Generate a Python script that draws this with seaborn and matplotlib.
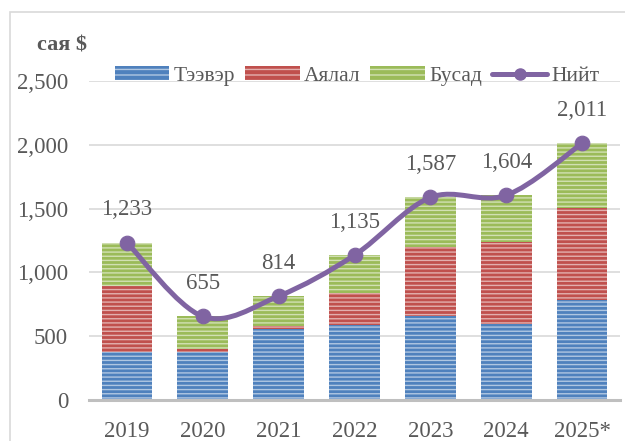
import numpy as np
import pandas as pd
import matplotlib
matplotlib.use("Agg")
import matplotlib.pyplot as plt
import seaborn as sns
from matplotlib.patches import Patch, Rectangle, PathPatch
from matplotlib.lines import Line2D
from matplotlib.path import Path

years = ["2019", "2020", "2021", "2022", "2023", "2024", "2025*"]
transport = [375, 375, 560, 585, 660, 597, 780]
travel = [515, 25, 20, 250, 537, 640, 727]
other = [343, 255, 234, 300, 390, 367, 504]
total = [1233, 655, 814, 1135, 1587, 1604, 2011]
series_names = ["Тээвэр", "Аялал", "Бусад", "Нийт"]
unit_label = "сая $"

c_blue = "#4F81BD"
c_red = "#C0504D"
c_green = "#9BBB59"
c_purple = "#8064A2"
txt = "#595959"

sns.set_theme(style="white")
plt.rcParams["font.family"] = ["Liberation Serif", "DejaVu Serif"]
plt.rcParams["hatch.linewidth"] = 1.0

fig = plt.figure(figsize=(6.25, 4.41), dpi=100)
ax = fig.add_axes([89/625, 1-400/441, (620-89)/625, (400-81)/441])

df = pd.DataFrame({"year": years, "t": transport, "a": travel, "o": other})
bottom2 = np.array(transport)
bottom3 = bottom2 + np.array(travel)
hatch_kw = dict(hatch="----", edgecolor=(1, 1, 1, 0.55), linewidth=0, width=0.67)
sns.barplot(data=df, x="year", y="t", color=c_blue, saturation=1, ax=ax, **hatch_kw)
sns.barplot(data=df, x="year", y="a", color=c_red, saturation=1, ax=ax, bottom=bottom2, **hatch_kw)
sns.barplot(data=df, x="year", y="o", color=c_green, saturation=1, ax=ax, bottom=bottom3, **hatch_kw)

# smooth line (Catmull-Rom style, like Excel smoothing)
xs = np.arange(len(years), dtype=float)
ys = np.array(total, dtype=float)
P = np.column_stack([xs, ys])
verts = [tuple(P[0])]
codes = [Path.MOVETO]
n = len(P)
for i in range(n - 1):
    p0 = P[i - 1] if i > 0 else P[i]
    p1 = P[i]
    p2 = P[i + 1]
    p3 = P[i + 2] if i + 2 < n else P[i + 1]
    c1 = p1 + (p2 - p0) / 6
    c2 = p2 - (p3 - p1) / 6
    verts += [tuple(c1), tuple(c2), tuple(p2)]
    codes += [Path.CURVE4] * 3
ax.add_patch(PathPatch(Path(verts, codes), facecolor="none", edgecolor=c_purple,
                       lw=3.6, zorder=5, capstyle="round"))
sns.scatterplot(x=xs, y=ys, color=c_purple, s=110, edgecolor=c_purple, zorder=6, ax=ax, legend=False)

for x, y in zip(xs, total):
    ax.annotate(f"{y:,}", (x, y), xytext=(0, 33), textcoords="offset pixels",
                ha="center", va="center", fontsize=16.5, color=txt, zorder=7)

ax.set_ylim(0, 2500)
ax.set_xlim(-0.5, len(years) - 0.5)
ax.set_yticks([0, 500, 1000, 1500, 2000, 2500])
ax.set_yticklabels([f"{v:,}" for v in [0, 500, 1000, 1500, 2000, 2500]])
ax.yaxis.grid(True, color="#d9d9d9", lw=1.2)
ax.set_axisbelow(True)
for s in ["top", "right", "left"]:
    ax.spines[s].set_visible(False)
ax.spines["bottom"].set_color("#bfbfbf")
ax.spines["bottom"].set_linewidth(2.2)
ax.spines["bottom"].set_zorder(8)
ax.tick_params(axis="both", length=0, labelsize=16.5, labelcolor=txt)
ax.tick_params(axis="y", pad=15)
ax.tick_params(axis="x", pad=15)
ax.set_xlabel("")
ax.set_ylabel("")

handles = [
    Patch(facecolor=c_blue, hatch="---", edgecolor=(1, 1, 1, 0.55), lw=0),
    Patch(facecolor=c_red, hatch="---", edgecolor=(1, 1, 1, 0.55), lw=0),
    Patch(facecolor=c_green, hatch="---", edgecolor=(1, 1, 1, 0.55), lw=0),
    Line2D([0], [0], color=c_purple, lw=3.6, marker="o", markersize=8),
]
leg = fig.legend(handles, series_names, loc="center", bbox_to_anchor=(357/625, 1-76/441),
                 ncol=4, frameon=False, fontsize=15.5, handlelength=2.55, handleheight=0.6,
                 handletextpad=0.2, columnspacing=0.45, labelcolor=txt)

fig.text(37/625, 1-45/441, unit_label, fontsize=16, fontweight="bold", color=txt,
         ha="left", va="center")

fig.patches.append(Rectangle((10/625, -0.1), 1.2, 1.1 - 12/441, transform=fig.transFigure,
                             fill=False, edgecolor="#d9d9d9", lw=1.2))

fig.savefig("out.png", dpi=100)
